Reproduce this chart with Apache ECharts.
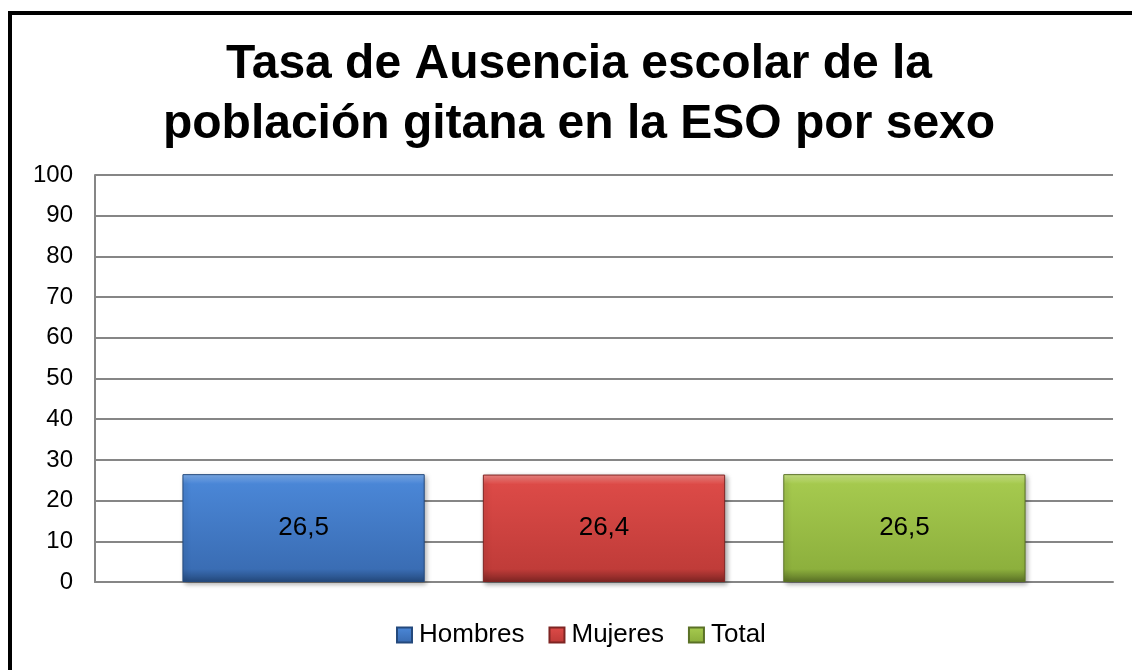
<!DOCTYPE html>
<html>
<head>
<meta charset="utf-8">
<title>Tasa de Ausencia escolar</title>
<script src="https://cdn.jsdelivr.net/npm/echarts@6/dist/echarts.min.js"></script>
</head>
<body style="margin:0;background:#fff">
<div id="chart" style="width:1132px;height:670px;"></div>
<script>
var categorias = [''];
var series = ['Hombres', 'Mujeres', 'Total'];
var valores = [[26.5], [26.4], [26.5]];
var etiquetas = ['26,5', '26,4', '26,5'];
var yTicks = [0, 10, 20, 30, 40, 50, 60, 70, 80, 90, 100];

// colores (claro arriba, oscuro abajo) para imitar el bisel
var colores = [
  ['#7fb0ee', '#4a86d6', '#3a6db4', '#24497c'],
  ['#f38a87', '#dc4a47', '#c03c39', '#7e2523'],
  ['#cde88a', '#a5c94e', '#8db03d', '#5a7126']
];

function relleno(c) {
  return new echarts.graphic.LinearGradient(0, 0, 0, 1, [
    { offset: 0, color: c[0] },
    { offset: 0.09, color: c[1] },
    { offset: 0.88, color: c[2] },
    { offset: 1, color: c[3] }
  ]);
}

var chart = echarts.init(document.getElementById('chart'));
var option = {
  animation: false,
  textStyle: { fontFamily: 'Liberation Sans, Arial, sans-serif' },
  title: {
    text: 'Tasa de Ausencia escolar de la\npoblación gitana en la ESO por sexo',
    left: 574,
    top: 30,
    textAlign: 'center',
    textStyle: { fontSize: 48, fontWeight: 'bold', color: '#000', lineHeight: 60 }
  },
  legend: {
    data: series,
    bottom: 17,
    left: 391,
    itemWidth: 15,
    itemHeight: 15,
    itemGap: 24,
    icon: 'rect',
    textStyle: { fontSize: 26, color: '#000', padding: [0, 0, 0, 2] }
  },
  grid: { left: 95, right: 19, top: 175, bottom: 88 },
  xAxis: {
    type: 'category',
    data: categorias,
    axisLine: { show: true, lineStyle: { color: '#868686', width: 2 } },
    axisTick: { show: false },
    axisLabel: { show: false }
  },
  yAxis: {
    type: 'value',
    min: yTicks[0],
    max: yTicks[yTicks.length - 1],
    interval: 10,
    axisLine: { show: true, lineStyle: { color: '#868686', width: 2 } },
    axisTick: { show: false },
    axisLabel: { fontSize: 24, color: '#000', margin: 22 },
    splitLine: { lineStyle: { color: '#868686', width: 2 } }
  },
  series: series.map(function (nombre, i) {
    return {
      name: nombre,
      type: 'bar',
      data: valores[i],
      barWidth: '23.8%',
      barGap: '24%',
      itemStyle: {
        color: relleno(colores[i]),
        borderColor: colores[i][3],
        borderWidth: 1,
        shadowColor: 'rgba(0,0,0,0.35)',
        shadowBlur: 5,
        shadowOffsetX: 2,
        shadowOffsetY: 2
      },
      label: {
        show: true,
        position: 'inside',
        formatter: function () { return etiquetas[i]; },
        fontSize: 26,
        color: '#000'
      }
    };
  }),
  graphic: [{
    type: 'rect',
    shape: { x: 10, y: 13, width: 1300, height: 900 },
    style: { fill: null, stroke: '#000', lineWidth: 4 },
    silent: true
  }]
};
chart.setOption(option);
</script>
</body>
</html>
